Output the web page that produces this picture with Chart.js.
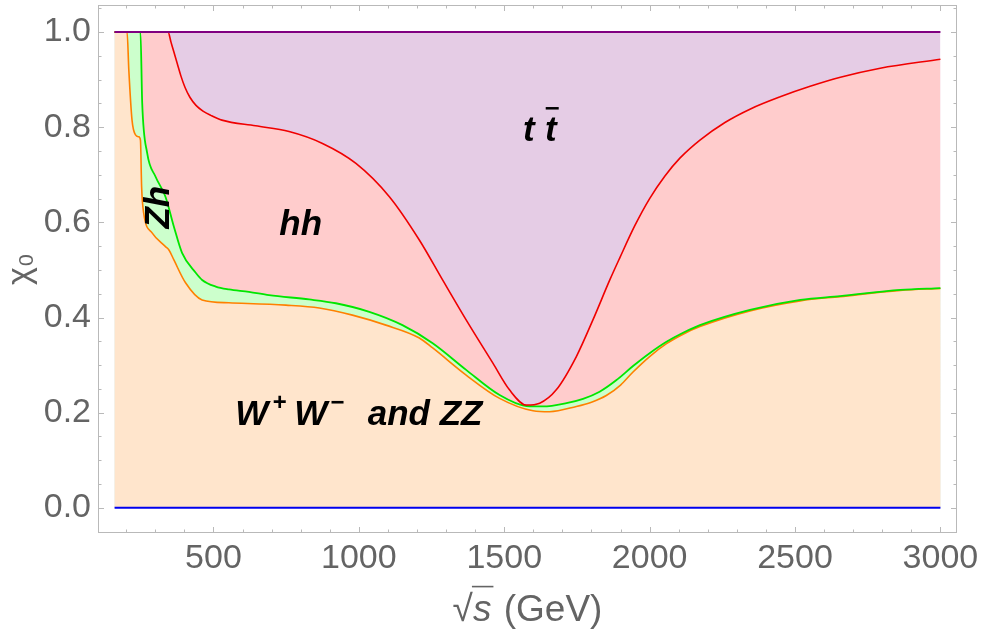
<!DOCTYPE html>
<html>
<head>
<meta charset="utf-8">
<script src="https://cdn.jsdelivr.net/npm/chart.js@4.4.1/dist/chart.umd.min.js"></script>
<style>
  html, body { margin: 0; padding: 0; background: #fff; }
  #wrap { width: 981px; height: 636px; }
</style>
</head>
<body>
<div id="wrap"><canvas id="chiChart" width="981" height="636"></canvas></div>
<script>
// sqrt(s) (GeV) / chi_0 pour chaque frontière de canal, cumulé du bas vers le haut
const wwzzX = [160, 203, 209, 220, 232, 243, 249, 253, 260, 289, 335, 347, 364, 404, 461, 553, 749, 864, 978, 1093, 1208, 1254, 1369, 1484, 1599, 1656, 1748, 1800, 1851, 1900, 1942, 2000, 2058, 2115, 2173, 2345, 2518, 2655, 2862, 3000]
const wwzzY = [1, 1, 0.92, 0.815, 0.784, 0.78, 0.773, 0.675, 0.62, 0.578, 0.549, 0.542, 0.521, 0.473, 0.437, 0.431, 0.426, 0.42, 0.405, 0.384, 0.357, 0.336, 0.279, 0.23, 0.204, 0.202, 0.213, 0.222, 0.236, 0.258, 0.285, 0.318, 0.345, 0.365, 0.381, 0.414, 0.435, 0.444, 0.457, 0.461]

const zhX = [160, 249, 255, 272, 301, 335, 364, 392, 439, 461, 508, 553, 622, 691, 829, 921, 1036, 1150, 1254, 1369, 1484, 1576, 1633, 1714, 1771, 1828, 1885, 1943, 2000, 2058, 2115, 2173, 2345, 2518, 2655, 2862, 3000]
const zhY = [1, 1, 0.851, 0.746, 0.696, 0.654, 0.591, 0.536, 0.494, 0.479, 0.465, 0.459, 0.454, 0.447, 0.438, 0.43, 0.412, 0.384, 0.346, 0.29, 0.237, 0.214, 0.213, 0.22, 0.229, 0.244, 0.268, 0.298, 0.325, 0.349, 0.368, 0.384, 0.416, 0.437, 0.445, 0.458, 0.462]

const hhX = [160, 344, 354, 364, 376, 388, 402, 419, 440, 464, 491, 529, 645, 760, 875, 990, 1105, 1208, 1288, 1369, 1461, 1518, 1576, 1622, 1679, 1748, 1805, 1863, 1897, 1949, 2000, 2052, 2104, 2173, 2259, 2345, 2449, 2552, 2656, 2793, 3000]
const hhY = [1, 1, 0.979, 0.958, 0.933, 0.908, 0.884, 0.863, 0.846, 0.834, 0.825, 0.815, 0.803, 0.791, 0.766, 0.724, 0.654, 0.563, 0.479, 0.395, 0.304, 0.248, 0.216, 0.22, 0.248, 0.318, 0.395, 0.479, 0.525, 0.593, 0.65, 0.697, 0.735, 0.773, 0.81, 0.838, 0.864, 0.886, 0.905, 0.924, 0.943]

const ttX = [160, 3000]
const ttY = [1, 1]
const baseX = [160, 3000]
const baseY = [0, 0]

// graduations
const X_TICKS = [500, 1000, 1500, 2000, 2500, 3000]
const Y_TICKS = [0, 0.2, 0.4, 0.6, 0.8, 1.0]

// étiquettes des régions (position en coordonnées des données)
const TT_POS = [1622, 0.771]
const HH_POS = [800, 0.5735]
const ZH_POS = [315, 0.632]
const WW_POS = [1000, 0.174]

const GRAY = '#646464'
const FONT = '"Liberation Sans", Arial, sans-serif'

function pts(xs, ys) {
  return xs.map((x, i) => ({ x: x, y: ys[i] }))
}

// zones remplies (dessinées en premier) puis les courbes par dessus
function fillSet(xs, ys, color, order) {
  return { data: pts(xs, ys), fill: 'origin', backgroundColor: color, borderWidth: 0, pointRadius: 0, order: order, cubicInterpolationMode: 'monotone' }
}
function lineSet(xs, ys, color, width, order) {
  return { data: pts(xs, ys), fill: false, borderColor: color, borderWidth: width, pointRadius: 0, order: order, cubicInterpolationMode: 'monotone' }
}

// traits du cadre, graduations vers l'intérieur sur les 4 côtés
const frameTicks = {
  id: 'frameTicks',
  afterDraw(chart) {
    const { ctx, chartArea: a, scales: { x, y } } = chart
    ctx.save()
    ctx.strokeStyle = '#b9b9b9'
    ctx.lineWidth = 1
    ctx.strokeRect(a.left + 0.5, a.top + 0.5, a.right - a.left - 1, a.bottom - a.top - 1)
    ctx.beginPath()
    for (let v = 200; v <= 3000; v += 100) {
      const len = X_TICKS.includes(v) ? 6 : 3.5
      const px = Math.round(x.getPixelForValue(v)) + 0.5
      ctx.moveTo(px, a.bottom); ctx.lineTo(px, a.bottom - len)
      ctx.moveTo(px, a.top); ctx.lineTo(px, a.top + len)
    }
    for (let k = -1; k <= 21; k++) {
      const v = k * 0.05
      const len = k % 4 === 0 ? 6 : 3.5
      const py = Math.round(y.getPixelForValue(v)) + 0.5
      if (py < a.top || py > a.bottom) continue
      ctx.moveTo(a.left, py); ctx.lineTo(a.left + len, py)
      ctx.moveTo(a.right, py); ctx.lineTo(a.right - len, py)
    }
    ctx.stroke()
    ctx.restore()
  }
}

// noms des canaux dans les zones
const regionLabels = {
  id: 'regionLabels',
  afterDatasetsDraw(chart) {
    const { ctx, scales: { x, y } } = chart
    const big = 'italic bold 35px ' + FONT
    const small = 'italic bold 24px ' + FONT
    ctx.save()
    ctx.fillStyle = '#000'
    ctx.textBaseline = 'alphabetic'
    ctx.textAlign = 'center'
    ctx.font = big

    // t tbar
    let px = x.getPixelForValue(TT_POS[0]), py = y.getPixelForValue(TT_POS[1])
    ctx.fillText('t', px - 11, py)
    ctx.fillText('t', px + 11, py)
    ctx.fillRect(px + 6, py - 34, 13, 2.5)

    // hh
    ctx.fillText('hh', x.getPixelForValue(HH_POS[0]), y.getPixelForValue(HH_POS[1]))

    // Zh, tourné
    ctx.save()
    ctx.translate(x.getPixelForValue(ZH_POS[0]), y.getPixelForValue(ZH_POS[1]))
    ctx.rotate(-Math.PI / 2)
    ctx.textBaseline = 'middle'
    ctx.fillText('Zh', 0, 0)
    ctx.restore()

    // W+ W- and ZZ
    ctx.textAlign = 'left'
    const parts = [['W', big, 0, 4], ['+', small, -15, 8], ['W', big, 0, 3], ['\u2212', small, -15, 4], ['  and ZZ', big, 0, 0]]
    let total = 0
    for (const p of parts) { ctx.font = p[1]; total += ctx.measureText(p[0]).width + p[3] }
    let cx = x.getPixelForValue(WW_POS[0]) - total / 2
    py = y.getPixelForValue(WW_POS[1])
    for (const p of parts) {
      ctx.font = p[1]
      ctx.fillText(p[0], cx, py + p[2])
      cx += ctx.measureText(p[0]).width + p[3]
    }
    ctx.restore()
  }
}

// titre de l'axe x : racine de s avec sa barre, s en italique
const xTitle = {
  id: 'xTitle',
  afterDraw(chart) {
    const { ctx, chartArea: a } = chart
    const size = 37
    const base = 621
    ctx.save()
    ctx.fillStyle = GRAY
    ctx.strokeStyle = GRAY
    ctx.textBaseline = 'alphabetic'
    ctx.textAlign = 'left'
    ctx.font = size + 'px ' + FONT
    const wRad = ctx.measureText('\u221A').width
    const wRest = ctx.measureText(' (GeV)').width
    ctx.font = 'italic ' + size + 'px ' + FONT
    const wS = ctx.measureText('s').width + 2
    let cx = (a.left + a.right) / 2 - (wRad + wS + wRest) / 2
    ctx.font = size + 'px ' + FONT
    ctx.fillText('\u221A', cx, base)
    ctx.lineWidth = 1.6
    ctx.beginPath()
    ctx.moveTo(cx + wRad - 1, base - size * 0.93)
    ctx.lineTo(cx + wRad + wS, base - size * 0.93)
    ctx.stroke()
    cx += wRad
    ctx.font = 'italic ' + size + 'px ' + FONT
    ctx.fillText('s', cx, base)
    cx += wS
    ctx.font = size + 'px ' + FONT
    ctx.fillText(' (GeV)', cx, base)
    ctx.restore()
  }
}

document.addEventListener('DOMContentLoaded', function () {
  const datasets = [
    lineSet(baseX, baseY, '#0000ee', 2, 0),
    lineSet(ttX, ttY, '#800080', 2, 1),
    lineSet(hhX, hhY, '#f00000', 1.6, 2),
    lineSet(zhX, zhY, '#00e600', 1.8, 3),
    lineSet(wwzzX, wwzzY, '#ff8000', 1.6, 4),
    fillSet(wwzzX, wwzzY, '#ffe5cc', 10),
    fillSet(zhX, zhY, '#ccffcc', 11),
    fillSet(hhX, hhY, '#ffcccc', 12),
    fillSet(ttX, ttY, '#e5cce5', 13)
  ]

  const config = {
    type: 'line',
    data: { datasets: datasets },
    options: {
      responsive: false,
      animation: false,
      layout: { padding: { top: 5, right: 24, left: 0, bottom: 0 } },
      plugins: { legend: { display: false }, tooltip: { enabled: false } },
      scales: {
        x: {
          type: 'linear', min: 103, max: 3057,
          afterBuildTicks: s => { s.ticks = X_TICKS.map(v => ({ value: v })) },
          afterFit: s => { s.height = 103; s.paddingLeft = 0; s.paddingRight = 0 },
          grid: { display: false, drawTicks: false },
          border: { display: false },
          ticks: { padding: 5, color: GRAY, font: { family: FONT, size: 34 }, maxRotation: 0, autoSkip: false, callback: v => String(v) }
        },
        y: {
          type: 'linear', min: -0.053, max: 1.057,
          afterBuildTicks: s => { s.ticks = Y_TICKS.map(v => ({ value: v })) },
          afterFit: s => { s.width = 98; s.paddingTop = 0; s.paddingBottom = 0 },
          grid: { display: false, drawTicks: false },
          border: { display: false },
          ticks: { padding: 7, color: GRAY, font: { family: FONT, size: 34 }, callback: v => v.toFixed(1) },
          title: { display: true, text: 'χ₀', color: GRAY, font: { family: FONT, size: 34 }, padding: { top: 0, bottom: 0 } }
        }
      }
    },
    plugins: [regionLabels, frameTicks, xTitle]
  }

  new Chart(document.getElementById('chiChart'), config)
})
</script>
</body>
</html>
